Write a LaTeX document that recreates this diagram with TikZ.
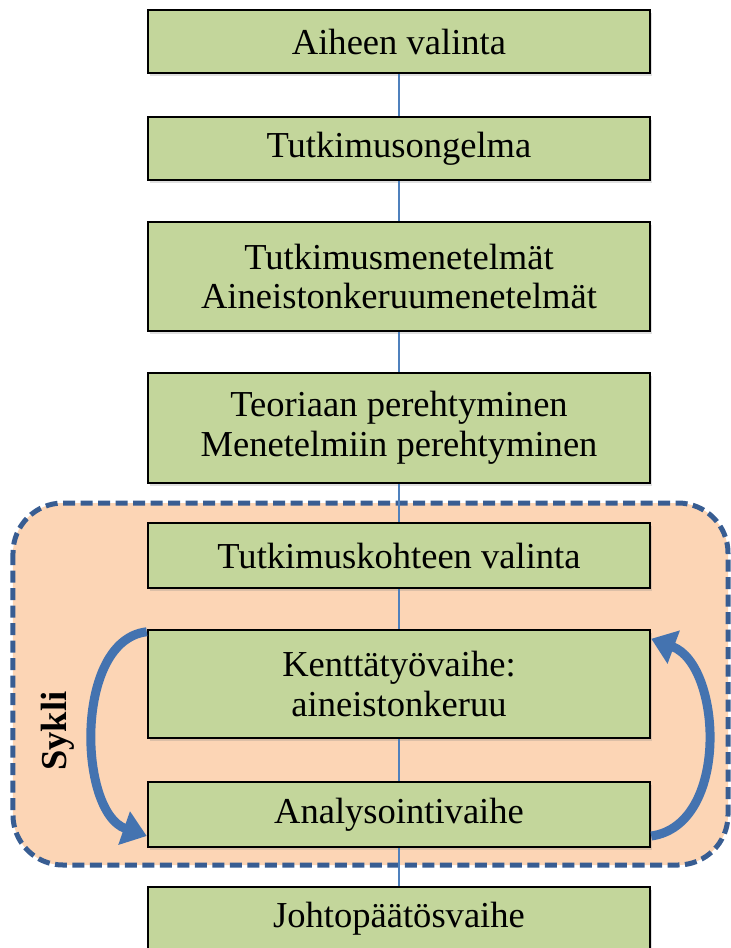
\documentclass[tikz,border=0pt]{standalone}
\usepackage{fontspec}
\setmainfont{Liberation Serif}
\usepackage{tikz}
\usetikzlibrary{arrows.meta,shadows}
\definecolor{stepGreen}{HTML}{C3D69B}
\definecolor{cyclePeach}{HTML}{FCD5B5}
\definecolor{cycleBlue}{HTML}{385D92}
\definecolor{lineBlue}{HTML}{4F81BD}
\definecolor{arrowBlue}{HTML}{4473B0}

\begin{document}
\begin{tikzpicture}[font=\fontsize{20.8}{22.6}\selectfont, >=Stealth,
  stepbox/.style={rectangle,draw=black,line width=1.4pt,fill=stepGreen,minimum width=10.04cm,
    align=center,inner sep=0pt,drop shadow={shadow xshift=0.03cm,shadow yshift=-0.05cm,opacity=0.25}},
  steplink/.style={lineBlue,line width=0.9pt},
  cyclearrow/.style={arrowBlue,line width=0.18cm,-{Triangle[length=0.48cm,width=0.68cm]}}]
\useasboundingbox (0,0) rectangle (14.62,-18.96);
% --- the cycle area ---
\draw[cycleBlue,fill=cyclePeach,line width=0.1cm,dash pattern=on 0.24cm off 0.11cm,
  rounded corners=1cm] (0.26,-10.06) rectangle (14.56,-17.30);
% --- steps ---
\node[stepbox,minimum height=1.26cm] (aihe) at (7.98,-0.83) {Aiheen valinta};
\node[stepbox,minimum height=1.26cm] (ongelma) at (7.98,-2.97) {Tutkimusongelma};
\node[stepbox,minimum height=2.18cm] (menetelmat) at (7.98,-5.53) {Tutkimusmenetelmät\\Aineistonkeruumenetelmät};
\node[stepbox,minimum height=2.2cm] (teoria) at (7.98,-8.56) {Teoriaan perehtyminen\\Menetelmiin perehtyminen};
\node[stepbox,minimum height=1.3cm] (kohde) at (7.98,-11.11) {Tutkimuskohteen valinta};
\node[stepbox,minimum height=2.16cm] (kentta) at (7.98,-13.68) {Kenttätyövaihe:\\aineistonkeruu};
\node[stepbox,minimum height=1.3cm] (analyysi) at (7.98,-16.29) {Analysointivaihe};
\node[stepbox,minimum height=1.26cm] (johto) at (7.98,-18.37) {Johtopäätösvaihe};
\foreach \a/\b in {aihe/ongelma,ongelma/menetelmat,menetelmat/teoria,teoria/kohde,
    kohde/kentta,kentta/analyysi,analyysi/johto}
  \draw[steplink] (\a)--(\b);
% --- cycle arrows ---
\node[font=\fontsize{20.8}{22.6}\selectfont\bfseries,rotate=90] (sykli) at (1.16,-14.62) {Sykli};
\draw[cyclearrow] ([yshift=-0.06cm]kentta.north west) .. controls (1.48,-12.8) and (1.56,-16.24) .. ([yshift=-0.43cm]analyysi.west);
\draw[cyclearrow] ([yshift=-0.43cm]analyysi.east) .. controls (14.6,-16.5) and (14.44,-13.3) .. ([yshift=-0.2cm]kentta.north east);
\end{tikzpicture}
\end{document}
